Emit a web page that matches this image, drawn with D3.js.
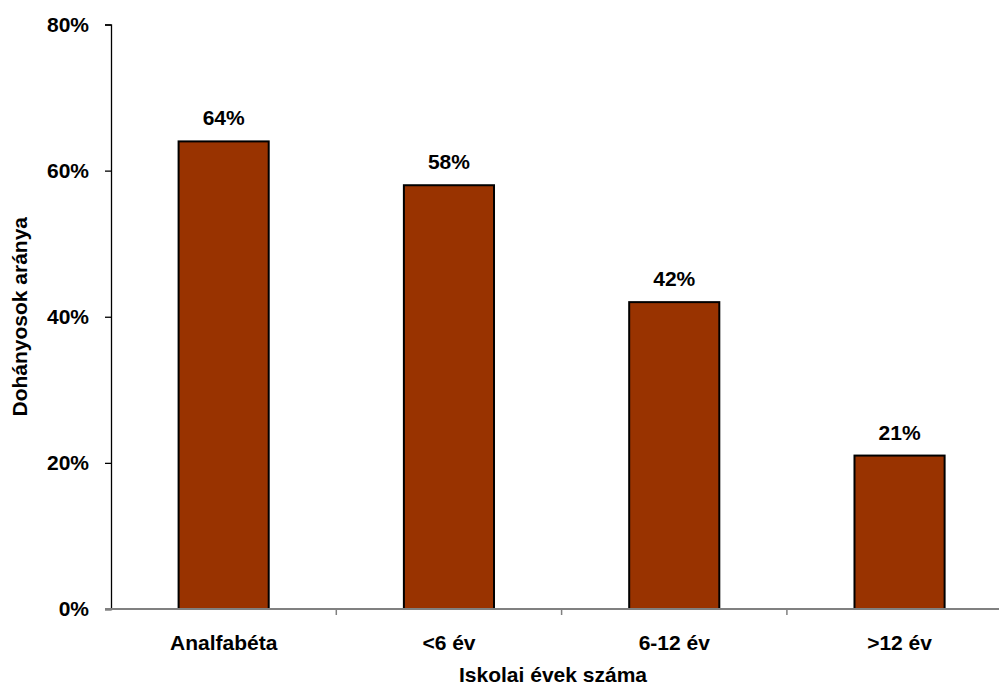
<!DOCTYPE html>
<html>
<head>
<meta charset="utf-8">
<script src="https://cdn.jsdelivr.net/npm/d3@7"></script>
<style>
  body { margin: 0; background: #fff; }
  text { font-family: Arial, "Liberation Sans", sans-serif; font-weight: bold; fill: #000; }
</style>
</head>
<body>
<div id="container"></div>
<script>
// data
const categories = ["Analfabéta", "<6 év", "6-12 év", ">12 év"];
const values = [64, 58, 42, 21];
const yTicks = [0, 20, 40, 60, 80];

const w = 999;
const h = 686;
const plotLeft = 111;
const plotTop = 24.5;
const plotBottom = 609;
const fs = "21px";

const xScale = d3.scaleBand()
  .domain(categories)
  .range([plotLeft, plotLeft + 4 * 225.3])
  .paddingInner(0)
  .paddingOuter(0);

const yScale = d3.scaleLinear()
  .domain([0, 80])
  .range([plotBottom, plotTop]);

let svg = d3.select("#container")
  .append("svg")
  .attr("width", w)
  .attr("height", h);

// y axis
const yAxis = d3.axisLeft(yScale)
  .tickValues(yTicks)
  .tickSize(6)
  .tickPadding(16)
  .tickFormat(d => d + "%");

const gy = svg.append("g")
  .attr("transform", "translate(" + plotLeft + ",0)")
  .call(yAxis);
gy.select(".domain").attr("stroke", "#000").attr("stroke-width", 1.3);
gy.selectAll(".tick line").attr("stroke", "#000").attr("stroke-width", 1.3);
gy.selectAll(".tick text").style("font-size", fs).attr("fill", "#000");

// bars
const bw = xScale.bandwidth() * 0.4;
svg.selectAll("rect.bar")
  .data(values)
  .enter()
  .append("rect")
  .attr("class", "bar")
  .attr("x", (d, i) => xScale(categories[i]) + xScale.bandwidth() / 2 - bw / 2)
  .attr("y", d => yScale(d))
  .attr("width", bw)
  .attr("height", d => plotBottom - yScale(d))
  .attr("fill", "#993300")
  .attr("stroke", "#000")
  .attr("stroke-width", 2);

// x axis (gray)
const xAxis = d3.axisBottom(xScale).tickSize(0).tickFormat("");
const gx = svg.append("g")
  .attr("transform", "translate(0," + plotBottom + ")")
  .call(xAxis);
gx.select(".domain").remove();
gx.append("line")
  .attr("x1", plotLeft - 6).attr("x2", w)
  .attr("y1", 0).attr("y2", 0)
  .attr("stroke", "#808080").attr("stroke-width", 2);
// boundary ticks between categories
gx.selectAll("line.sep")
  .data(categories.slice(1))
  .enter()
  .append("line")
  .attr("class", "sep")
  .attr("x1", d => xScale(d)).attr("x2", d => xScale(d))
  .attr("y1", 0).attr("y2", 6)
  .attr("stroke", "#808080").attr("stroke-width", 1.5);

// category labels
svg.selectAll("text.cat")
  .data(categories)
  .enter()
  .append("text")
  .attr("class", "cat")
  .attr("x", d => xScale(d) + xScale.bandwidth() / 2)
  .attr("y", 650)
  .attr("text-anchor", "middle")
  .style("font-size", fs)
  .text(d => d);

// value labels
svg.selectAll("text.val")
  .data(values)
  .enter()
  .append("text")
  .attr("class", "val")
  .attr("x", (d, i) => xScale(categories[i]) + xScale.bandwidth() / 2)
  .attr("y", d => yScale(d) - 16)
  .attr("text-anchor", "middle")
  .style("font-size", fs)
  .text(d => d + "%");

// axis titles
svg.append("text")
  .attr("x", 553)
  .attr("y", 682)
  .attr("text-anchor", "middle")
  .style("font-size", fs)
  .text("Iskolai évek száma");

svg.append("text")
  .attr("transform", "rotate(-90)")
  .attr("x", -(plotTop + plotBottom) / 2)
  .attr("y", 27)
  .attr("text-anchor", "middle")
  .style("font-size", fs)
  .text("Dohányosok aránya");
</script>
</body>
</html>
